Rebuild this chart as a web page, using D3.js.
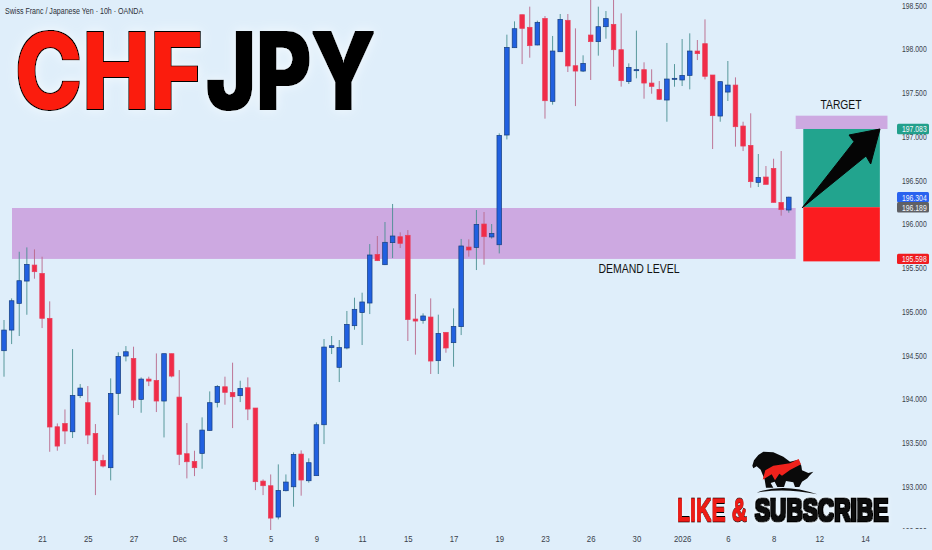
<!DOCTYPE html>
<html>
<head>
<meta charset="utf-8">
<script src="https://cdn.jsdelivr.net/npm/d3@7"></script>
<style>
    html, body { margin: 0; padding: 0; background: #dfeefa; overflow: hidden; }
    svg { display: block; }
    .tick-label { font-family: "Liberation Sans", sans-serif; font-size: 9.5px; fill: #3a3f4a; }
    .note { font-family: "Liberation Sans", sans-serif; font-size: 13px; fill: #111; text-anchor: middle; }
</style>
</head>
<body>
<div id="chart"></div>
<script>
const opens = [
    194.549, 194.785, 195.090, 195.345, 195.528, 195.433, 194.919, 193.680, 193.718, 193.623,
    194.035, 193.955, 193.604, 193.295, 193.212, 194.061, 194.488, 194.461, 193.993, 194.225,
    194.210, 193.974, 194.515, 194.019, 193.372, 193.284, 193.375, 193.638, 193.958, 194.137,
    194.073, 194.035, 194.126, 193.894, 193.059, 193.006, 192.648, 192.949, 192.994, 193.368,
    193.063, 193.121, 193.703, 194.584, 194.359, 194.580, 194.835, 194.984, 195.094, 195.650,
    195.532, 195.784, 195.852, 195.868, 194.911, 194.896, 194.934, 194.435, 194.759, 194.641,
    194.824, 195.734, 195.730, 195.997, 195.849, 195.760, 197.014, 198.012, 198.389, 198.245,
    198.043, 198.347, 197.399, 197.966, 198.325, 197.806, 197.745, 198.157, 198.081, 198.252,
    198.279, 197.989, 197.624, 197.749, 197.761, 197.608, 197.536, 197.414, 197.654, 197.643,
    197.696, 197.974, 198.058, 197.700, 197.231, 197.505, 197.585, 197.117, 196.896, 196.473,
    196.534, 196.633, 196.244, 196.157
];
const closes = [
    194.785, 195.120, 195.349, 195.536, 195.452, 194.919, 193.677, 193.459, 193.631, 194.038,
    194.122, 193.585, 193.292, 193.231, 194.061, 194.484, 194.537, 193.985, 194.225, 194.202,
    193.974, 194.515, 194.259, 193.364, 193.280, 193.212, 193.642, 193.955, 194.141, 194.073,
    194.023, 194.118, 193.882, 193.052, 193.006, 192.636, 192.952, 193.048, 193.364, 193.071,
    193.269, 193.703, 194.591, 194.606, 194.584, 194.850, 195.022, 195.106, 195.643, 195.578,
    195.788, 195.860, 195.776, 194.904, 194.888, 194.946, 194.431, 194.747, 194.580, 194.827,
    195.746, 195.700, 195.993, 195.852, 195.890, 197.010, 198.016, 198.229, 198.233, 198.035,
    198.302, 197.406, 197.974, 198.336, 197.803, 197.745, 197.833, 198.081, 198.252, 198.344,
    197.989, 197.635, 197.787, 197.761, 197.608, 197.570, 197.422, 197.654, 197.662, 197.696,
    197.974, 197.944, 197.685, 197.235, 197.624, 197.585, 197.109, 196.888, 196.481, 196.530,
    196.450, 196.244, 196.161, 196.304
];
const highs = [
    194.900, 195.147, 195.680, 195.730, 195.707, 195.623, 195.113, 193.718, 193.878, 194.568,
    194.168, 194.145, 193.711, 193.360, 194.233, 194.530, 194.602, 194.595, 194.244, 194.252,
    194.518, 194.515, 194.515, 194.328, 193.722, 193.406, 193.787, 194.084, 194.156, 194.252,
    194.412, 194.206, 194.244, 193.894, 193.078, 193.135, 193.250, 193.135, 193.387, 193.410,
    193.319, 193.730, 194.683, 194.717, 194.671, 195.003, 195.155, 195.212, 195.768, 195.860,
    196.020, 196.226, 195.902, 195.928, 195.197, 194.976, 195.147, 194.961, 194.759, 195.033,
    195.826, 195.822, 196.157, 196.134, 195.997, 197.033, 198.161, 198.313, 198.389, 198.481,
    198.321, 198.374, 198.146, 198.397, 198.397, 198.233, 197.925, 198.600, 198.481, 198.431,
    198.600, 198.405, 197.833, 198.207, 197.845, 197.765, 197.631, 198.066, 197.825, 198.111,
    198.176, 198.100, 198.336, 197.700, 197.624, 197.860, 197.673, 197.166, 197.262, 196.797,
    196.660, 196.743, 196.831, 196.309
];
const lows = [
    194.252, 194.625, 194.717, 194.960, 195.372, 194.808, 193.394, 193.406, 193.482, 193.551,
    194.008, 193.482, 192.899, 193.215, 193.067, 193.814, 194.427, 193.894, 193.840, 194.145,
    193.848, 193.558, 194.244, 193.242, 193.090, 193.116, 193.200, 193.634, 193.901, 193.932,
    193.665, 193.962, 193.756, 192.956, 192.899, 192.484, 192.621, 192.941, 192.766, 192.892,
    193.041, 193.121, 193.482, 194.511, 194.191, 194.565, 194.789, 194.614, 194.968, 195.574,
    195.528, 195.608, 195.723, 194.660, 194.504, 194.858, 194.283, 194.283, 194.526, 194.366,
    194.728, 195.624, 195.471, 195.532, 195.830, 195.661, 196.964, 198.012, 197.825, 197.898,
    198.039, 197.201, 197.361, 197.966, 197.734, 197.345, 197.734, 197.643, 197.921, 198.115,
    197.795, 197.567, 197.597, 197.662, 197.429, 197.486, 197.414, 197.166, 197.566, 197.574,
    197.536, 197.871, 197.650, 196.854, 197.166, 197.403, 196.881, 196.831, 196.412, 196.420,
    196.450, 196.244, 196.092, 196.126
];

const priceTicks = [198.5, 198, 197.5, 197, 196.5, 196, 195.5, 195, 194.5, 194, 193.5, 193, 192.5];
const dateLabels = ["21", "25", "27", "Dec", "3", "5", "9", "11", "15", "17", "19", "23", "26", "30", "2026", "6", "8", "12", "14"];
const dateIndexes = dateLabels.map((d, i) => 5 + i * 6);

// price tags on the right axis
const tagPrices = [197.083, 196.304, 196.189, 195.598];
const tagColors = ["#22a08c", "#2962ef", "#5f6065", "#f01c20"];

const demandZone = { top: 196.18, bottom: 195.598, from: 1.05, to: 103.9 };
const targetZone = { top: 197.235, bottom: 197.083, from: 103.9, to: 115.95 };
const rewardBox = { top: 197.083, bottom: 196.189, from: 104.9, to: 114.95 };
const riskBox = { top: 196.189, bottom: 195.57, from: 104.9, to: 114.95 };

const width = 932, height = 550;
const labelSqueeze = 0.72; // no narrow face installed, so the labels get squeezed

const x = d3.scaleLinear().domain([0, 113]).range([4, 865]);
const y = d3.scaleLinear().domain([198.5, 192.5]).range([5, 530]);

const svg = d3.select("#chart").append("svg")
    .attr("width", width)
    .attr("height", height);

const defs = svg.append("defs");
defs.append("clipPath").attr("id", "plot")
    .append("rect").attr("width", 895).attr("height", 530);

// black outline plus a pale halo round the big words
function outlineFilter(id, outline, haloBlur) {
    const f = defs.append("filter").attr("id", id)
        .attr("x", "-15%").attr("y", "-30%").attr("width", "130%").attr("height", "160%");
    f.append("feMorphology").attr("in", "SourceAlpha").attr("operator", "dilate").attr("radius", outline).attr("result", "fat");
    f.append("feFlood").attr("flood-color", "#000").attr("result", "black");
    f.append("feComposite").attr("in", "black").attr("in2", "fat").attr("operator", "in").attr("result", "edge");
    f.append("feGaussianBlur").attr("in", "fat").attr("stdDeviation", haloBlur).attr("result", "soft");
    f.append("feFlood").attr("flood-color", "#f4fafe").attr("result", "pale");
    f.append("feComposite").attr("in", "pale").attr("in2", "soft").attr("operator", "in").attr("result", "halo");
    const m = f.append("feMerge");
    m.append("feMergeNode").attr("in", "halo");
    m.append("feMergeNode").attr("in", "edge");
    m.append("feMergeNode").attr("in", "SourceGraphic");
}
outlineFilter("bigword", 1.4, 6);
outlineFilter("smallword", 0.7, 3);

svg.append("rect").attr("width", width).attr("height", height).attr("fill", "#dfeefa");

// axes
const yAxis = svg.append("g")
    .attr("transform", "translate(902,0)")
    .call(d3.axisRight(y).tickValues(priceTicks).tickSize(0).tickPadding(0).tickFormat(d3.format(".3f")));
yAxis.select(".domain").remove();
yAxis.selectAll("text").attr("class", "tick-label")
    .attr("transform", `scale(${labelSqueeze},1)`);

const xAxis = svg.append("g")
    .attr("transform", "translate(0,531)")
    .call(d3.axisBottom(x).tickValues(dateIndexes).tickSize(0).tickPadding(4)
        .tickFormat((d, i) => dateLabels[i]));
xAxis.select(".domain").remove();
xAxis.selectAll("text").attr("class", "tick-label")
    .attr("transform", "scale(0.82,1)");

// cuts the lower half of the last price label, as the date strip does
svg.append("rect").attr("x", 890).attr("y", 529).attr("width", 42).attr("height", 21).attr("fill", "#dfeefa");

function zoneRect(zone, color) {
    svg.append("rect")
        .attr("x", x(zone.from))
        .attr("y", y(zone.top))
        .attr("width", x(zone.to) - x(zone.from))
        .attr("height", y(zone.bottom) - y(zone.top))
        .attr("fill", color);
}

zoneRect(demandZone, "#cda9e1");

// candles
const candles = opens.map((o, i) => ({ i, o, c: closes[i], h: highs[i], l: lows[i] }));
const plot = svg.append("g").attr("clip-path", "url(#plot)");

plot.selectAll("line.wick")
    .data(candles)
    .enter().append("line")
    .attr("class", "wick")
    .attr("x1", d => x(d.i))
    .attr("x2", d => x(d.i))
    .attr("y1", d => y(d.h))
    .attr("y2", d => y(d.l))
    .attr("stroke", d => d.c >= d.o ? "#4a8f92" : "#b9688a")
    .attr("stroke-width", 0.9);

plot.selectAll("rect.body")
    .data(candles)
    .enter().append("rect")
    .attr("class", "body")
    .attr("x", d => x(d.i) - 2.3)
    .attr("y", d => y(Math.max(d.o, d.c)))
    .attr("width", 4.6)
    .attr("height", d => Math.max(1, Math.abs(y(d.o) - y(d.c))))
    .attr("fill", d => d.c >= d.o ? "#2160e0" : "#f02c48")
    .attr("stroke", d => d.c >= d.o ? "#163e7e" : "#e8405c")
    .attr("stroke-width", 0.7);

zoneRect(targetZone, "#cda9e1");
zoneRect(rewardBox, "#22a48e");
zoneRect(riskBox, "#fb1c20");

// arrow
svg.append("path")
    .attr("d", "M802.3,207.7 L854,141.7 L849,135 L880,129 L870.7,164 L866,156 Z")
    .attr("fill", "#050505")
    .attr("stroke", "#050505")
    .attr("stroke-width", 1)
    .attr("stroke-linejoin", "round");

svg.append("text").attr("class", "note").attr("x", 841).attr("y", 109).text("TARGET")
    .attr("textLength", 41).attr("lengthAdjust", "spacingAndGlyphs");
svg.append("text").attr("class", "note").attr("x", 639).attr("y", 273).text("DEMAND LEVEL")
    .attr("textLength", 81).attr("lengthAdjust", "spacingAndGlyphs");

// price tags
const tags = svg.selectAll("g.tag")
    .data(tagPrices)
    .enter().append("g")
    .attr("class", "tag")
    .attr("transform", d => `translate(897,${y(d)})`);
tags.append("rect")
    .attr("y", -5.2)
    .attr("width", 32)
    .attr("height", 10.4)
    .attr("rx", 1.5)
    .attr("fill", (d, i) => tagColors[i]);
tags.append("text")
    .attr("transform", `translate(5,3.4) scale(${labelSqueeze},1)`)
    .attr("class", "tick-label")
    .style("fill", "#f2f6fa")
    .text(d => d.toFixed(3));

// header
svg.append("text")
    .attr("transform", "translate(5,14) scale(0.745,1)")
    .attr("font-family", "'Liberation Sans', sans-serif")
    .attr("font-size", 9.5)
    .attr("fill", "#2c3038")
    .text("Swiss Franc / Japanese Yen · 10h · OANDA");

function bigWord(txt, xPos, len, fill) {
    svg.append("text")
        .attr("x", xPos).attr("y", 109)
        .attr("font-family", "Inter, 'Liberation Sans', sans-serif")
        .attr("font-weight", 800)
        .attr("font-size", 106)
        .attr("textLength", len)
        .attr("lengthAdjust", "spacingAndGlyphs")
        .attr("fill", fill)
        .attr("filter", "url(#bigword)")
        .text(txt);
}
bigWord("CHF", 15, 188, "#fb1f10");
bigWord("JPY", 206, 169, "#000");

// logo, bear and bull over an arc
const logo = svg.append("g").attr("transform", "translate(740,445) scale(0.3333)");
logo.append("path")
    .attr("d", "M50,143 Q130,112 232,148 Q135,128 50,143 Z")
    .attr("fill", "#0a0a0a");
logo.append("path")
    .attr("d", "M37,62 L42,46 L55,30 L70,20 L100,22 L130,35 L150,50 L175,44 L184,62 L186,76 L205,84 L220,80 L208,92 L202,100 L186,110 L178,126 L165,126 L160,112 L138,108 L132,126 L112,126 L104,110 L92,114 L100,128 L78,128 L74,104 L62,74 L50,64 L40,70 Z")
    .attr("fill", "#0a0a0a");
logo.append("path")
    .attr("d", "M68,104 L76,76 L100,62 L150,55 L176,42 L183,58 L150,75 L126,92 L118,86 L105,106 L95,88 Z")
    .attr("fill", "#f0221c");

function subscribeText(txt, xPos, squeeze, fill) {
    svg.append("text")
        .attr("transform", `translate(${xPos},520.5) scale(${squeeze},1)`)
        .attr("font-family", "'Liberation Sans', sans-serif")
        .attr("font-weight", 700)
        .attr("font-size", 31)
        .attr("fill", fill)
        .attr("stroke", fill)
        .attr("stroke-width", 1)
        .attr("stroke-linejoin", "round")
        .attr("filter", "url(#smallword)")
        .text(txt);
}
subscribeText("LIKE &", 677, 0.69, "#ee1c14");
subscribeText("SUBSCRIBE", 755, 0.73, "#0a0a0a");
</script>
</body>
</html>
